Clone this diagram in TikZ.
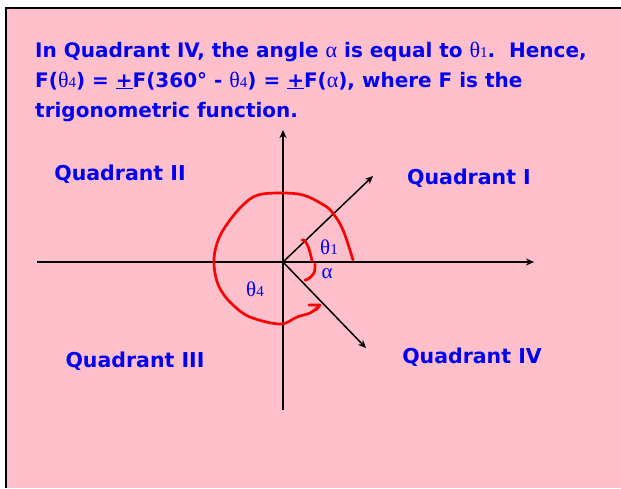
\documentclass[tikz,border=0pt]{standalone}
\usepackage{fontspec}
\setmainfont{DejaVu Sans}
\newfontfamily\grk{Liberation Serif}
\usetikzlibrary{arrows.meta}
\definecolor{bgpink}{RGB}{255,192,203}
\definecolor{txtblue}{RGB}{0,0,240}
\newcommand{\gk}[1]{{\grk\mdseries\fontsize{22}{22}\selectfont #1}}
\newcommand{\sbs}[1]{{\fontsize{15}{15}\selectfont\raisebox{-0.5pt}{\grk\mdseries #1}}}
\tikzset{
  txt/.style={anchor=base west, inner sep=0pt, text=txtblue, font=\fontsize{20}{22}\selectfont\bfseries},
  quad/.style={anchor=base, inner sep=0pt, text=txtblue, font=\fontsize{20.5}{22}\selectfont\bfseries},
  glab/.style={inner sep=0pt, text=txtblue, font=\grk\fontsize{21}{21}\selectfont},
  axis/.style={line width=1.8pt, -{Stealth[length=8pt,width=7pt]}},
  ray/.style={line width=1.5pt, -{Stealth[length=8pt,width=7pt]}},
  redc/.style={draw=red, line width=2.7pt, line cap=round, line join=round}
}
\begin{document}
\begin{tikzpicture}[x=1pt,y=-1pt]
\useasboundingbox (0,0) rectangle (621,488);
\fill[white] (0,0) rectangle (621,488);
\fill[bgpink] (6,8) rectangle (621,488);
\draw[line width=2.5pt] (6,488) -- (6,8) -- (621,8);
% text
\node[txt] (l1) at (35,57) {In Quadrant IV, the angle \gk{α} is equal to \gk{θ}\sbs{1}.\ \ Hence,};
\node[txt] (l2) at (35,87) {F(\gk{θ}\sbs{4}) = \underline{+}F(360° - \gk{θ}\sbs{4}) = \underline{+}F(\gk{α}), where F is the};
\node[txt] (l3) at (35,117) {trigonometric function.};
% axes
\coordinate (O) at (283,262);
\coordinate (xl) at (37,262);
\coordinate (xr) at (534,262);
\coordinate (yt) at (283,130);
\coordinate (yb) at (283,410);
\coordinate (r1) at (373,176);
\coordinate (r4) at (366,348);
\draw[axis] (xl) -- (xr);
\draw[axis] (yb) -- (yt);
\draw[ray] (O) -- (r1);
\draw[ray] (O) -- (r4);
% red curve
\draw[redc] plot[smooth, tension=0.6] coordinates {(353,260) (343,230) (332,212) (322,204) (303,195) (280,193) (258,195) (244,204) (230,220) (219,238) (214,258) (216,278) (222,292) (233,305) (250,317) (280,324) (297,317) (310,313) (318,307)};
\draw[redc] (309,305) -- (320,305) -- (316,310);
% small arcs
\draw[redc] plot[smooth, tension=0.7] coordinates {(312,261) (309,249) (305,241) (302,240)};
\draw[redc] plot[smooth, tension=0.7] coordinates {(315,264) (314,273) (308,279) (305,280)};
% greek labels
\node[glab] (t1) at (329,247) {θ\sbs{1}};
\node[glab] (al) at (327,274) {α};
\node[glab] (t4) at (255,289) {θ\sbs{4}};
% quadrant labels
\node[quad] (q2) at (120,180) {Quadrant II};
\node[quad] (q1) at (469,184) {Quadrant I};
\node[quad] (q3) at (135,367) {Quadrant III};
\node[quad] (q4) at (472,363) {Quadrant IV};
\end{tikzpicture}
\end{document}
